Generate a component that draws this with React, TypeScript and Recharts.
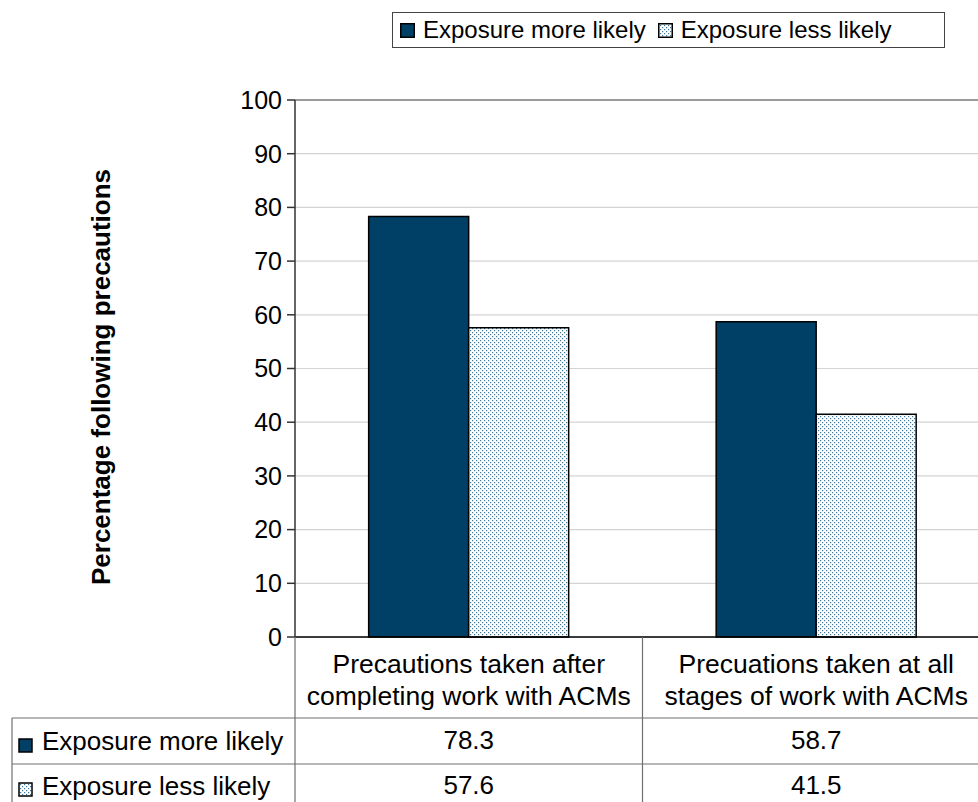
import React from 'react';
import { BarChart, Bar, XAxis, YAxis, CartesianGrid, Legend, ReferenceLine } from 'recharts';

const categoryLines: string[][] = [
  ['Precautions taken after', 'completing work with ACMs'],
  ['Precuations taken at all', 'stages of work with ACMs'],
];
const categories = categoryLines.map((l) => l.join(' '));
const seriesKeys = ['more', 'less'];
const seriesNames = ['Exposure more likely', 'Exposure less likely'];
const moreLikely = [78.3, 58.7];
const lessLikely = [57.6, 41.5];
const yTicks = [0, 10, 20, 30, 40, 50, 60, 70, 80, 90, 100];

const data = categories.map((c, i) => ({ category: c, more: moreLikely[i], less: lessLikely[i] }));

const FONT = '"Liberation Sans", Arial, sans-serif';
const DARK = '#004066';
const LINE = '#707070';
const fills: Record<string, string> = { more: DARK, less: 'url(#dots)' };

const CategoryTick = (props: any) => {
  const { x, y, payload, index } = props;
  const i = payload?.index ?? index;
  const half = payload?.offset ?? 173.75;
  const lines = categoryLines[i] || [];
  return (
    <g fontFamily={FONT}>
      <line x1={x - half} y1={y} x2={x - half} y2={802} stroke={LINE} strokeWidth={1.2} />
      <line x1={x - half} y1={y + 81} x2={x + half} y2={y + 81} stroke={LINE} strokeWidth={1.2} />
      <line x1={x - half} y1={y + 127} x2={x + half} y2={y + 127} stroke={LINE} strokeWidth={1.2} />
      <text x={x} y={y + 36} textAnchor="middle" fontSize={26.5} fill="#000">{lines[0]}</text>
      <text x={x} y={y + 68} textAnchor="middle" fontSize={26.5} fill="#000">{lines[1]}</text>
      <text x={x} y={y + 112} textAnchor="middle" fontSize={26} fill="#000">{moreLikely[i].toFixed(1)}</text>
      <text x={x} y={y + 157} textAnchor="middle" fontSize={26} fill="#000">{lessLikely[i].toFixed(1)}</text>
    </g>
  );
};

const YTitle = () => (
  <text
    x={110}
    y={377}
    transform="rotate(-90, 110, 377)"
    textAnchor="middle"
    fontFamily={FONT}
    fontSize={26}
    fontWeight="bold"
    fill="#000"
  >
    Percentage following precautions
  </text>
);

const LegendBox = () => (
  <div
    style={{
      boxSizing: 'border-box',
      width: 553,
      height: 36,
      border: '1px solid #444',
      background: '#fff',
      display: 'flex',
      alignItems: 'center',
      fontFamily: FONT,
      fontSize: 24,
      color: '#000',
      paddingLeft: 7,
      whiteSpace: 'nowrap',
    }}
  >
    {seriesKeys.map((k, idx) => (
      <div key={k} style={{ display: 'flex', alignItems: 'center', marginRight: 12 }}>
        <svg width={15} height={15} style={{ marginRight: 8 }}>
          <rect x={0.75} y={0.75} width={13.5} height={13.5} fill={fills[k]} stroke="#000" strokeWidth={1.5} />
        </svg>
        <span>{seriesNames[idx]}</span>
      </div>
    ))}
  </div>
);

export default function App() {
  return (
    <div style={{ position: 'absolute', left: 0, top: 0, width: 978, height: 802, background: '#fff', overflow: 'hidden' }}>
      <svg width={978} height={802} style={{ position: 'absolute', left: 0, top: 0 }}>
        <defs>
          <pattern id="dots" width={4} height={4} patternUnits="userSpaceOnUse">
            <rect x={0} y={0} width={4} height={4} fill="#ffffff" />
            <rect x={0} y={0} width={1.2} height={1.2} fill="#3f7896" />
            <rect x={2} y={2} width={1.2} height={1.2} fill="#3f7896" />
          </pattern>
        </defs>
        <line x1={12} y1={718} x2={12} y2={802} stroke={LINE} strokeWidth={1.2} />
        <line x1={12} y1={718} x2={295} y2={718} stroke={LINE} strokeWidth={1.2} />
        <line x1={12} y1={764} x2={295} y2={764} stroke={LINE} strokeWidth={1.2} />
        <rect x={19} y={739} width={13} height={13} fill={DARK} stroke="#000" strokeWidth={1.5} />
        <rect x={19} y={783} width={13} height={13} fill="url(#dots)" stroke="#000" strokeWidth={1.5} />
        <text x={42} y={750} fontFamily={FONT} fontSize={26} fill="#000">{seriesNames[0]}</text>
        <text x={42} y={795} fontFamily={FONT} fontSize={26} fill="#000">{seriesNames[1]}</text>
      </svg>
      <div style={{ position: 'absolute', left: 0, top: 0 }}>
        <BarChart
          width={990}
          height={802}
          data={data}
          margin={{ top: 100, right: 0, left: 235, bottom: 0 }}
          barCategoryGap="21.2%"
          barGap={0}
        >
          <CartesianGrid vertical={false} stroke="#d4d4d4" strokeWidth={1.2} />
          <ReferenceLine y={100} stroke="#808080" strokeWidth={1.5} />
          <XAxis
            dataKey="category"
            height={165}
            axisLine={{ stroke: '#000', strokeWidth: 1.5 }}
            tickLine={false}
            tickSize={0}
            tickMargin={0}
            interval={0}
            tick={<CategoryTick />}
          />
          <YAxis
            width={60}
            domain={[0, 100]}
            ticks={yTicks}
            interval={0}
            axisLine={{ stroke: '#333', strokeWidth: 1.5 }}
            tickLine={{ stroke: '#333', strokeWidth: 1.5 }}
            tickSize={8}
            tickMargin={5}
            tick={{ fontFamily: FONT, fontSize: 25, fill: '#000' }}
            label={<YTitle />}
          />
          <Legend
            layout="vertical"
            align="center"
            verticalAlign="middle"
            wrapperStyle={{ left: 392, top: 12, width: 553, height: 36 }}
            content={<LegendBox />}
          />
          <Bar dataKey="more" name={seriesNames[0]} fill={DARK} stroke="#000" strokeWidth={1.5} isAnimationActive={false} />
          <Bar dataKey="less" name={seriesNames[1]} fill="url(#dots)" stroke="#000" strokeWidth={1.5} isAnimationActive={false} />
        </BarChart>
      </div>
    </div>
  );
}
